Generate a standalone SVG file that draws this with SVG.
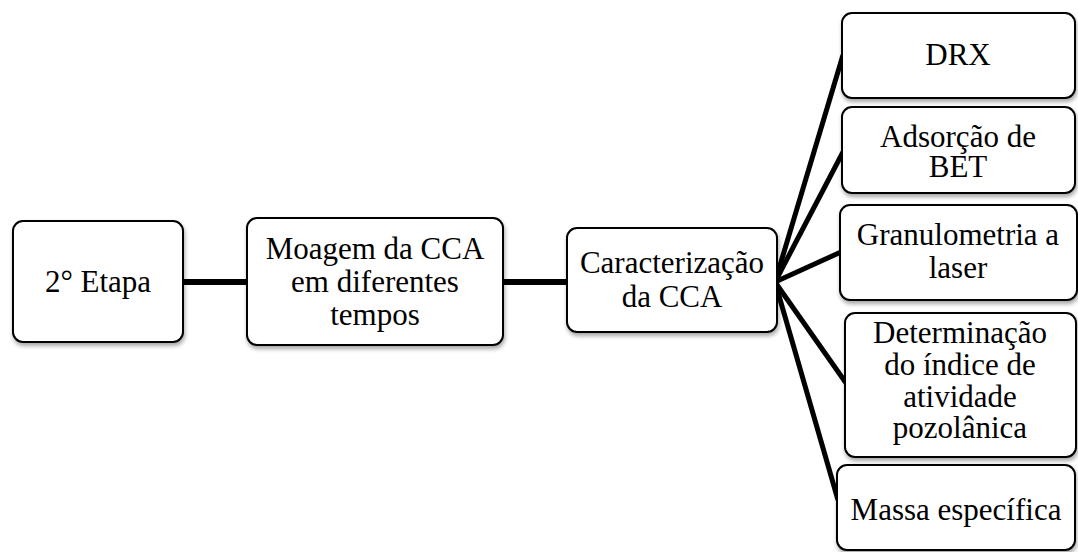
<svg xmlns="http://www.w3.org/2000/svg" width="1078" height="552" viewBox="0 0 1078 552">
<defs>
<filter id="sh" x="-10%" y="-10%" width="130%" height="130%">
<feGaussianBlur in="SourceAlpha" stdDeviation="2"/>
<feOffset dx="1" dy="3" result="b"/>
<feComponentTransfer><feFuncA type="linear" slope="0.35"/></feComponentTransfer>
<feMerge><feMergeNode/><feMergeNode in="SourceGraphic"/></feMerge>
</filter>
</defs>
<style>
.box{fill:#fff;stroke:#000;stroke-width:2;filter:url(#sh)}
.t{font-size:31px;fill:#000;text-anchor:middle}
.c{stroke:#000;fill:none;stroke-linecap:butt}
</style>
<rect width="1078" height="552" fill="#fff"/>
<g id="connectors">
<line class="c" x1="183" y1="282" x2="247" y2="282" stroke-width="6"/>
<line class="c" x1="503" y1="282" x2="567" y2="282" stroke-width="6"/>
<line class="c" x1="775" y1="282" x2="843" y2="55" stroke-width="5"/>
<line class="c" x1="775" y1="282" x2="843" y2="152" stroke-width="5"/>
<line class="c" x1="775" y1="282" x2="841" y2="252" stroke-width="5"/>
<line class="c" x1="775" y1="282" x2="846" y2="383" stroke-width="5"/>
<line class="c" x1="775" y1="282" x2="838" y2="500" stroke-width="5"/>
</g>
<g id="n1"><rect class="box" x="13" y="221" width="170" height="121" rx="10"/><g class="t" font-family="Times New Roman, serif"><text x="98" y="292">2° Etapa</text></g></g>
<g id="n2"><rect class="box" x="247" y="218" width="256" height="127" rx="10"/><g class="t" font-family="Times New Roman, serif"><text x="375" y="259">Moagem da CCA</text><text x="375" y="292">em diferentes</text><text x="375" y="325">tempos</text></g></g>
<g id="n3"><rect class="box" x="567" y="228" width="210" height="104" rx="10"/><g class="t" font-family="Times New Roman, serif"><text x="672" y="273">Caracterização</text><text x="672" y="307">da CCA</text></g></g>
<g id="n4"><rect class="box" x="842" y="13" width="233" height="85" rx="10"/><g class="t" font-family="Times New Roman, serif"><text x="958" y="65">DRX</text></g></g>
<g id="n5"><rect class="box" x="842" y="107" width="233" height="86" rx="10"/><g class="t" font-family="Times New Roman, serif"><text x="958" y="147">Adsorção de</text><text x="958" y="177">BET</text></g></g>
<g id="n6"><rect class="box" x="840" y="205" width="237" height="95" rx="10"/><g class="t" font-family="Times New Roman, serif"><text x="958" y="245">Granulometria a</text><text x="958" y="278">laser</text></g></g>
<g id="n7"><rect class="box" x="845" y="313" width="231" height="144" rx="10"/><g class="t" font-family="Times New Roman, serif"><text x="960" y="343">Determinação</text><text x="960" y="375">do índice de</text><text x="960" y="407">atividade</text><text x="960" y="438">pozolânica</text></g></g>
<g id="n8"><rect class="box" x="837" y="465" width="238" height="85" rx="10"/><g class="t" font-family="Times New Roman, serif"><text x="956" y="520">Massa específica</text></g></g>
</svg>
